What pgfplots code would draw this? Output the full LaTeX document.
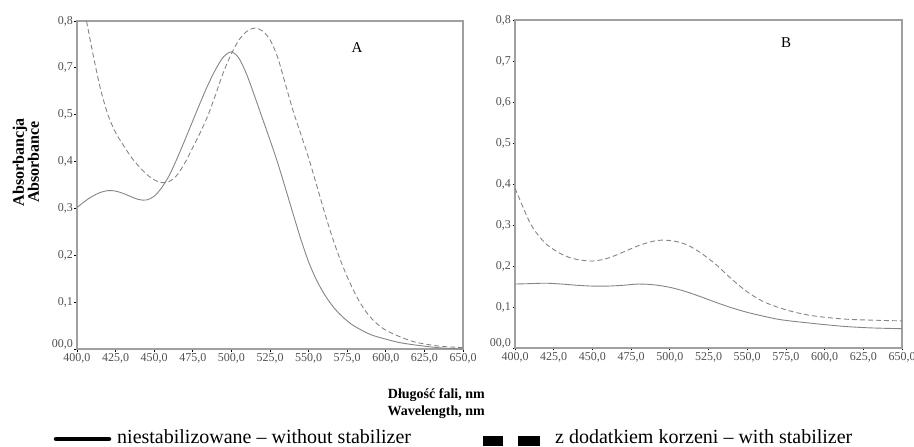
\documentclass[border=0pt]{standalone}
\usepackage{fontspec}
\setmainfont{Liberation Serif}
\usepackage{pgfplots}
\pgfplotsset{compat=1.18}
\definecolor{axgray}{HTML}{A0A0A0}
\definecolor{curve}{HTML}{858585}
\definecolor{ticktext}{HTML}{505050}

\pgfplotstableread{
x y
400 0.302
405 0.315
410 0.326
415 0.334
420 0.338
425 0.337
430 0.332
435 0.325
440 0.319
445 0.318
450 0.326
455 0.345
460 0.372
465 0.408
470 0.447
475 0.487
480 0.527
485 0.565
490 0.598
495 0.624
500 0.634
505 0.620
510 0.585
515 0.540
520 0.493
525 0.446
530 0.397
535 0.343
540 0.288
545 0.234
550 0.186
555 0.148
560 0.118
565 0.094
570 0.075
575 0.060
580 0.048
590 0.031
600 0.021
610 0.013
625 0.006
637 0.002
650 0.000
}\solidA

\pgfplotstableread{
x y
400 0.800
405 0.720
410 0.635
415 0.558
420 0.500
425 0.462
430 0.435
435 0.410
440 0.390
445 0.373
450 0.361
455 0.355
460 0.358
465 0.372
470 0.398
475 0.430
480 0.463
485 0.500
490 0.545
495 0.592
500 0.630
505 0.660
510 0.678
515 0.685
520 0.679
525 0.660
530 0.622
535 0.565
540 0.508
545 0.458
550 0.408
555 0.352
560 0.295
565 0.242
570 0.195
575 0.154
580 0.119
585 0.090
590 0.068
595 0.052
600 0.040
610 0.025
620 0.014
635 0.006
650 0.003
}\dashA

\pgfplotstableread{
x y
400 0.156
410 0.157
420 0.158
430 0.156
440 0.153
450 0.151
460 0.151
470 0.153
480 0.156
490 0.154
500 0.148
510 0.138
520 0.125
530 0.111
540 0.098
550 0.087
560 0.078
570 0.070
580 0.065
590 0.061
600 0.057
615 0.052
630 0.049
650 0.047
}\solidB

\pgfplotstableread{
x y
400 0.390
405 0.345
410 0.303
415 0.275
420 0.254
425 0.240
430 0.229
435 0.221
440 0.216
450 0.212
460 0.219
470 0.234
480 0.250
490 0.261
497 0.263
505 0.259
512 0.250
520 0.232
530 0.203
540 0.168
550 0.137
560 0.114
570 0.099
580 0.088
590 0.080
600 0.075
615 0.070
630 0.068
650 0.066
}\dashB

\pgfplotsset{
  panel/.style={
    scale only axis, width=386pt, height=328pt,
    anchor=north west,
    xmin=400, xmax=650, xtick={400,425,...,650},
    axis line style={axgray, line width=1.1pt},
    tick style={black, line width=0.8pt},
    tick align=outside, major tick length=2.5pt,
    xtick pos=bottom, ytick pos=left,
    xticklabel style={font=\fontsize{12}{12}\selectfont, text=ticktext, inner sep=1.5pt,
      /pgf/number format/.cd, fixed, fixed zerofill, precision=1, use comma, 1000 sep={}, assume math mode=true},
    yticklabel style={font=\fontsize{12}{12}\selectfont, text=ticktext, inner sep=1.5pt},
    clip=true,
  },
  solidc/.style={curve, line width=0.9pt, smooth},
  dashc/.style={curve, line width=0.9pt, smooth, dash pattern=on 5pt off 3pt},
}

\begin{document}
\begin{tikzpicture}[x=1pt,y=1pt]
\useasboundingbox (0pt,0pt) rectangle (914pt,-447pt);

\begin{axis}[panel, at={(77pt,-21pt)},
  ymin=0, ymax=0.7, ytick={0,0.1,...,0.7},
  yticklabels={{\raisebox{10pt}{00,0}},{0,1},{0,2},{0,3},{0,4},{0,5},{0,7},{0,8}}]
\addplot[solidc] table {\solidA};
\addplot[dashc] table {\dashA};
\end{axis}

\begin{axis}[panel, at={(515pt,-20pt)}, width=387pt,
  ymin=0, ymax=0.8, ytick={0,0.1,...,0.8},
  yticklabels={{\raisebox{10pt}{00,0}},{0,1},{0,2},{0,3},{0,4},{0,5},{0,6},{0,7},{0,8}}]
\addplot[solidc] table {\solidB};
\addplot[dashc] table {\dashB};
\end{axis}

\node[font=\fontsize{15}{15}\selectfont] at (357pt,-48pt) {A};
\node[font=\fontsize{15}{15}\selectfont] at (786pt,-43pt) {B};

\node[rotate=90, align=center, font=\bfseries\fontsize{16}{15}\selectfont] at (26pt,-162pt) {Absorbancja\\Absorbance};

\node[anchor=base east, inner sep=0pt, font=\bfseries\fontsize{14}{14}\selectfont] at (485pt,-398pt) {Długość fali, nm};
\node[anchor=base east, inner sep=0pt, font=\bfseries\fontsize{14}{14}\selectfont] at (485pt,-415pt) {Wavelength, nm};

\draw[black, line width=4.5pt, line cap=round] (56pt,-439pt) -- (109pt,-439pt);
\node[anchor=base west, inner sep=0pt, font=\fontsize{20}{20}\selectfont] at (117pt,-443pt) {niestabilizowane – without stabilizer};
\fill[black] (483pt,-436pt) rectangle (503pt,-446pt);
\fill[black] (518pt,-436pt) rectangle (540pt,-446pt);
\node[anchor=base west, inner sep=0pt, font=\fontsize{20}{20}\selectfont] at (555pt,-443pt) {z dodatkiem korzeni – with stabilizer};
\end{tikzpicture}
\end{document}
